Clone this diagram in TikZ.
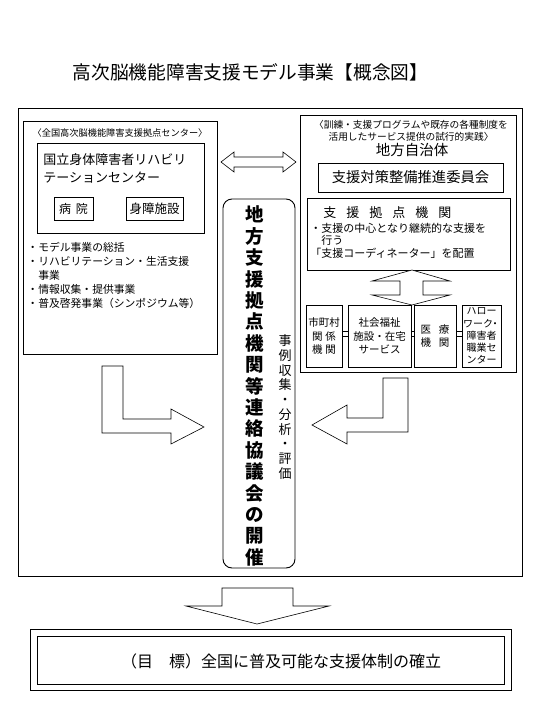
\documentclass[tikz,border=0pt]{standalone}
\usepackage{fontspec}
\setmainfont{Noto Sans CJK JP}
\usetikzlibrary{positioning}
\newcommand{\jsize}[2]{\fontsize{#1}{#2}\selectfont}

\begin{document}
\begin{tikzpicture}[
        x=1pt, y=-1pt,
        line width=0.9pt,
        plainbox/.style={draw, line width=0.9pt, inner sep=0pt},
        roundbox/.style={draw, line width=0.9pt, rounded corners=9pt, inner sep=0pt},
        blockarrow/.style={draw, fill=white, line width=0.6pt, line join=miter},
        txt/.style={inner sep=0pt, align=center},
        rowbox/.style={plainbox, minimum height=62, align=center, font=\jsize{10.5}{13.5}}
    ]
        \useasboundingbox (0,0) rectangle (540,720);
        \fill[white] (0,0) rectangle (540,720);

        \node[txt, font=\jsize{18.7}{20}] (title) at (250.5,72) {高次脳機能障害支援モデル事業【概念図】};

        % outer frame
        \draw (18,108) rectangle (522,576);

        % left side: national centre
        \draw (23,121) rectangle (217,354);
        \node[txt, font=\jsize{9.2}{10}] (leftcap) at (120,133) {〈全国高次脳機能障害支援拠点センター〉};
        \draw (37,143) rectangle (204,233);
        \node[txt, align=left, anchor=west, font=\jsize{13}{18}] (nrc) at (43,168) {国立身体障害者リハビリ\\テーションセンター};
        \node[plainbox, minimum width=39, minimum height=23, font=\jsize{12}{12}] (hosp) at (73.5,208.5) {病\hspace{5pt}院};
        \node[plainbox, minimum width=57, minimum height=23, font=\jsize{12.5}{12.5}] (shogai) at (154.5,208.5) {身障施設};
        \node[txt, align=left, anchor=west, font=\jsize{10.8}{14}] (leftlist) at (27,275)
            {・モデル事業の総括\\・リハビリテーション・生活支援\\　事業\\・情報収集・提供事業\\・普及啓発事業（シンポジウム等）};

        % two-way arrow
        \draw[blockarrow] (221,162) -- (234,152) -- (234,157) -- (283,157) -- (283,152) -- (296,162)
            -- (283,172) -- (283,167) -- (234,167) -- (234,172) -- cycle;

        % central council
        \node[roundbox, minimum width=72, minimum height=369] (council) at (259,383.5) {};
        \node[txt, font=\jsize{18.5}{21.4}\bfseries] (counciltext) at (255,386)
            {地\\方\\支\\援\\拠\\点\\機\\関\\等\\連\\絡\\協\\議\\会\\の\\開\\催};
        \node[txt, font=\jsize{13}{14.7}] (casework) at (285,407)
            {事\\例\\収\\集\\・\\分\\析\\・\\評\\価};

        % right side: local government
        \draw (300,115) rectangle (516,372);
        \node[txt, font=\jsize{9.7}{11.5}] (rightcap) at (411,131) {〈訓練・支援プログラムや既存の各種制度を\\活用したサービス提供の試行的実践〉};
        \node[txt, font=\jsize{14.5}{15}] (jichitai) at (412,150) {地方自治体};
        \node[plainbox, minimum width=185, minimum height=29, font=\jsize{14.3}{15}] (iinkai) at (410.5,177.5) {支援対策整備推進委員会};
        \node[plainbox, minimum width=203, minimum height=72] (kyoten) at (408.5,234) {};
        \node[txt, anchor=west, font=\jsize{13}{13}] (kyotentitle) at (323,213)
            {支\hspace{10pt}援\hspace{10pt}拠\hspace{10pt}点\hspace{10pt}機\hspace{10pt}関};
        \node[txt, align=left, anchor=west, font=\jsize{11}{12.5}] (kyotenlist) at (310,240.5)
            {・支援の中心となり継続的な支援を\\　行う\\「支援コーディネーター」を配置};

        \draw[blockarrow] (412,270) -- (450,281) -- (423,281) -- (423,295) -- (450,295) -- (412,305)
            -- (372,295) -- (400,295) -- (400,281) -- (372,281) -- cycle;

        \node[rowbox, minimum width=36] (b1) at (324,336) {市町村\\関\hspace{3pt}係\\機\hspace{3pt}関};
        \node[rowbox, minimum width=63] (b2) at (379.5,336) {社会福祉\\施設・在宅\\サービス};
        \node[rowbox, minimum width=42] (b3) at (435,336) {医\hspace{8pt}療\\機\hspace{8pt}関};
        \node[rowbox, minimum width=39, font=\jsize{10}{12.2}] (b4) at (481.5,336) {ハロー\\ワーク\hspace{-3pt}・\\障害者\\職業セ\\ンター};
        \foreach \a/\b in {b1/b2, b2/b3, b3/b4} {
            \draw (\a.east) -- (\b.west);
            \draw ([yshift=5pt]\a.east) -- ([yshift=5pt]\b.west);
        }

        % L-shaped arrows into the council
        \draw[blockarrow] (102,366) -- (123,366) -- (123,419) -- (171,419) -- (171,409) -- (204,427)
            -- (171,444) -- (171,433) -- (102,433) -- cycle;
        \draw[blockarrow] (383,378) -- (408,378) -- (408,432) -- (347,432) -- (347,444) -- (312,425)
            -- (347,405) -- (347,418) -- (383,418) -- cycle;

        % down to the goal
        \draw[blockarrow] (222,588) -- (293,588) -- (293,606) -- (329,606) -- (257,624) -- (186,606)
            -- (222,606) -- cycle;
        \node[plainbox, minimum width=467, minimum height=48] (goalbox) at (270.5,660) {};
        \draw ([shift={(-6,-6)}]goalbox.north west) rectangle ([shift={(7,6)}]goalbox.south east);
        \node[txt, font=\jsize{16}{16}] (goal) at (281,661) {（目　標）全国に普及可能な支援体制の確立};
    \end{tikzpicture}
\end{document}
